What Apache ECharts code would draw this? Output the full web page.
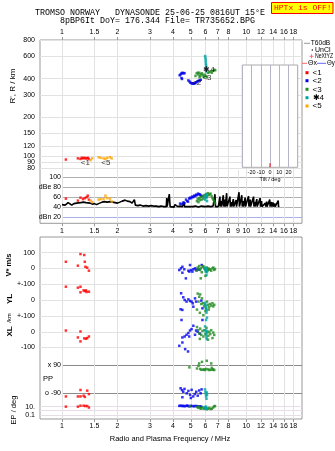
<!DOCTYPE html>
<html><head><meta charset="utf-8">
<script src="https://cdn.jsdelivr.net/npm/echarts@6/dist/echarts.min.js"></script>
<style>html,body{margin:0;padding:0;background:#fff}#c{width:335px;height:451px}</style>
</head><body><div id="c"></div>
<script>
// ---------- axis ticks ----------
const freqTicks = [1, 1.5, 2, 3, 4, 5, 6, 7, 8, 10, 12, 14, 16, 18];
const freqTicksDb = [1, 1.5, 2, 3, 4, 5, 6, 7, 8, 9, 10, 12, 14, 16, 18];
const rTicks = [800, 600, 400, 300, 200, 150, 120, 100, 90, 80];
const rLabelsA = [800, 600, 400, 300, 200, 150, 120, 100, 80];
const rLabelsB = [90];
const dbTicks = [20, 40, 60, 80, 100];
const vTicks = [100, 0, -100];
const ylTicks = [100, 0, -100];
const xlTicks = [100, 0, -100];
const ppTicks = [90, -90];
const epTicks = [10, 1, 0.1];
const epLabels = [10, 0.1];

// ---------- virtual height R' (km) ----------
const redR = [[1.05,94],[1.22,96],[1.26,95],[1.28,97],[1.30,96],[1.32,97],[1.34,96],[1.36,96],[1.38,97],[1.40,95]];
const orangeR = [[1.43,93],[1.46,96],[1.58,98],[1.62,97],[1.68,96],[1.72,95],[1.76,97],[1.82,98],[1.86,96]];
const blueR = [[4.35,425],[4.40,432],[4.45,440],[4.50,445],[4.56,440],[4.62,442],[4.45,405],[4.48,398],[4.85,388],[4.92,380],[4.98,372],[5.05,368],[5.12,366],[5.20,366],[5.28,370],[5.35,375],[5.42,380],[5.50,384],[5.58,388],[5.66,392]];
const greenR = [[5.30,420],[5.38,440],[5.45,445],[5.50,430],[5.55,445],[5.62,420],[5.68,435],[5.75,440],[5.80,425],[5.88,415],[5.95,430],[6.05,420],[6.20,445],[6.30,450],[6.40,455],[6.50,445],[6.60,460],[6.70,470],[6.78,465],[5.58,410],[6.12,410]];
const cyanR = [[5.98,600],[6.00,580],[6.02,560],[6.02,540],[6.04,520],[6.05,505],[6.06,490],[6.08,470],[6.05,455]];
const traceLabels = [['<1',1.34,89],['<5',1.73,89],['<2',5.38,375],['<3',6.12,404],['✱4',6.27,470]];

// ---------- amplitude dB ----------
const noiseDb = [[1.00,45],[1.02,47],[1.04,44],[1.06,46],[1.08,49],[1.10,45],[1.13,44],[1.16,47],[1.20,48],[1.23,50],[1.26,49],[1.28,51],[1.31,50],[1.35,49],[1.38,48],[1.42,48],[1.46,46],[1.50,47],[1.54,45],[1.58,47],[1.61,48],[1.65,50],[1.70,51],[1.76,50],[1.82,51],[1.88,50],[1.94,49],[2.00,48],[2.06,50],[2.12,52],[2.20,54],[2.26,52],[2.34,51],[2.40,48],[2.44,49],[2.47,55],[2.50,44],[2.58,43],[2.65,44],[2.75,42],[2.85,43],[2.95,42],[3.05,43],[3.13,42],[3.25,42],[3.35,41],[3.45,42],[3.54,41],[3.62,42],[3.68,41],[3.70,58],[3.72,41],[3.80,42],[3.82,66],[3.86,41],[3.95,42],[4.05,40],[4.10,45],[4.15,41],[4.25,41],[4.37,42],[4.50,41],[4.59,51],[4.62,41],[4.75,41],[4.95,41],[5.10,41],[5.30,42],[5.50,40],[5.70,42],[5.84,44],[6.00,41],[6.20,42],[6.40,41],[6.60,42],[6.76,66],[6.80,41],[6.95,42],[7.05,41],[7.19,61],[7.22,41],[7.30,52],[7.34,41],[7.45,42],[7.50,64],[7.54,41],[7.65,55],[7.69,41],[7.78,42],[7.82,68],[7.86,41],[8.00,42],[8.15,61],[8.19,41],[8.30,50],[8.34,41],[8.45,42],[8.50,56],[8.55,41],[8.70,42],[8.80,54],[8.85,41],[9.00,42],[9.13,70],[9.18,41],[9.30,42],[9.45,64],[9.50,41],[9.60,52],[9.65,41],[9.80,42],[9.85,59],[9.90,41],[10.1,42],[10.28,62],[10.33,41],[10.5,55],[10.55,41],[10.8,42],[10.95,61],[11.0,41],[11.1,50],[11.15,41],[11.3,42],[11.4,56],[11.45,41],[11.7,42],[11.88,58],[11.93,41],[12.1,52],[12.15,41],[12.4,42],[12.7,48],[12.75,41],[12.9,51],[12.95,41],[13.2,42],[13.4,55],[13.45,41],[13.7,50],[13.75,41],[14.0,49],[14.05,41],[14.3,47],[14.35,41],[14.6,42],[14.9,53],[14.95,41],[15.1,42]];
const redDb = [[1.05,57],[1.22,53],[1.26,59],[1.30,56],[1.33,58],[1.36,60],[1.38,63],[1.40,55]];
const orangeDb = [[1.43,53],[1.46,50],[1.58,55],[1.62,56],[1.68,56],[1.72,63],[1.76,58],[1.82,57],[1.86,51]];
const blueDb = [[4.37,47],[4.45,46],[4.54,49],[4.62,48],[4.71,55],[4.78,52],[4.83,51],[4.90,57],[4.95,59],[5.02,58],[5.08,61],[5.15,60],[5.21,63],[5.28,62],[5.34,65],[5.40,64],[5.47,67],[5.55,66],[5.61,65],[5.68,63],[5.75,62]];
const greenDb = [[5.40,52],[5.45,56],[5.50,50],[5.55,58],[5.60,54],[5.66,60],[5.72,55],[5.80,62],[5.85,57],[5.92,64],[5.97,60],[6.05,66],[6.12,62],[6.18,68],[6.25,64],[6.32,66],[6.40,67],[6.48,62],[6.55,58],[6.62,55],[6.70,52],[6.76,48]];
const cyanDb = [[5.97,55],[6.00,60],[6.03,64],[6.05,66],[6.08,58],[6.10,62],[6.12,52]];

// ---------- V* (m/s) ----------
const redV = [[1.05,42],[1.22,17],[1.26,91],[1.32,85],[1.33,42],[1.34,10],[1.37,4],[1.40,-15]];
const blueV = [[4.33,-11],[4.42,0],[4.50,10],[4.50,-28],[4.61,-6],[4.70,-64],[4.85,-15],[4.91,-21],[4.95,21],[5.01,-11],[5.10,-21],[5.16,-6],[5.27,0],[5.34,-11],[5.73,21],[5.45,-5],[5.55,-8]];
const greenV = [[5.38,-15],[5.45,5],[5.50,-5],[5.55,15],[5.61,-10],[5.66,0],[5.73,-25],[5.80,8],[5.85,14],[5.92,0],[5.97,-6],[6.05,-20],[6.10,5],[6.18,-12],[6.23,0],[6.30,-8],[6.36,-6],[6.45,-15],[6.55,0],[6.62,5],[6.70,-10],[6.76,-4],[5.66,-64],[6.00,-48]];
const cyanV = [[5.97,4],[6.00,-10],[6.03,-20],[6.05,0],[6.08,-43],[6.10,-8],[6.12,-25]];

// ---------- YL (km) ----------
const redYL = [[1.05,83],[1.22,77],[1.26,83],[1.26,48],[1.31,60],[1.33,56],[1.35,60],[1.36,50],[1.40,52]];
const blueYL = [[4.43,42],[4.55,17],[4.63,0],[4.74,-10],[4.85,4],[4.95,-6],[5.05,-10],[5.12,-21],[5.27,10],[5.34,-10],[4.40,-58],[4.50,-62],[4.45,-125],[5.70,-4],[5.78,-52],[5.78,-125],[5.16,-42]];
const greenYL = [[5.45,40],[5.50,-10],[5.55,20],[5.62,35],[5.70,-25],[5.75,10],[5.82,-20],[5.90,-40],[5.97,-30],[6.05,-50],[6.12,-10],[6.20,-30],[6.28,-45],[6.36,-25],[6.45,-35],[6.55,-20],[6.62,-40],[6.70,-30],[5.40,-60],[5.60,-80],[5.85,-95],[6.00,-70],[6.25,-60]];
const cyanYL = [[5.97,-17],[6.00,-30],[6.03,-55],[6.05,-40],[6.08,-80],[6.10,-65],[6.12,-110],[6.05,-125]];

// ---------- XL (km) ----------
const redXL = [[1.05,8],[1.22,-36],[1.26,2],[1.26,-61],[1.32,-42],[1.35,-44],[1.37,-40],[1.40,-30]];
const blueXL = [[5.16,38],[5.05,17],[4.95,8],[4.85,-8],[4.74,-19],[4.63,-30],[4.50,-36],[4.90,-30],[5.34,8],[5.27,-19],[4.50,-68],[4.33,-89],[4.66,-110],[4.83,-125],[5.45,0],[5.60,-12]];
const greenXL = [[5.40,30],[5.48,10],[5.55,-10],[5.62,20],[5.70,-20],[5.78,5],[5.85,-30],[5.92,10],[6.00,-15],[6.08,25],[6.15,-5],[6.22,-25],[6.30,0],[6.38,-15],[6.45,10],[6.55,-40],[6.62,-5],[6.70,-20],[5.60,-45],[6.20,-50]];
const cyanXL = [[5.97,34],[6.00,10],[6.03,-5],[6.05,-20],[6.08,-35],[6.10,-46],[6.12,5]];

// ---------- PP (deg) ----------
const redPP = [[1.05,-110],[1.22,-110],[1.26,-69],[1.26,-110],[1.31,-105],[1.33,-113],[1.37,-73],[1.40,-95]];
const bluePP = [[4.40,-58],[4.48,-70],[4.55,-80],[4.62,-62],[4.75,-90],[4.85,-75],[4.95,-100],[5.05,-68],[5.15,-110],[5.25,-95],[5.35,-80],[5.45,-105],[5.55,-72],[5.65,-90],[4.50,-115],[5.00,-120],[5.72,-65]];
const greenPP = [[4.91,75],[5.40,68],[5.50,85],[5.55,100],[5.62,65],[5.70,60],[5.75,110],[5.82,60],[5.90,62],[5.97,58],[6.05,65],[6.10,117],[6.20,62],[6.30,58],[6.40,60],[6.50,72],[6.55,60],[6.62,62],[6.70,58],[6.45,100]];
const cyanPP = [[5.97,-65],[6.00,-80],[6.03,-95],[6.05,-110],[6.08,-125],[6.10,-85],[6.12,-100]];

// ---------- EP (deg) ----------
const redEP = [[1.05,10],[1.22,10],[1.26,17],[1.31,17],[1.34,14],[1.37,14],[1.40,6]];
const blueEP = [[4.33,15],[4.40,18],[4.48,14],[4.55,16],[4.62,12],[4.70,15],[4.78,18],[4.85,14],[4.92,12],[5.00,16],[5.10,14],[5.20,12],[5.30,15],[5.40,13],[5.50,11],[5.60,12],[5.70,10]];
const greenEP = [[4.95,12],[5.40,8],[5.50,5],[5.55,10],[5.62,4],[5.70,3],[5.80,6],[5.90,3],[6.00,4],[6.10,2.5],[6.20,3],[6.30,5],[6.40,2.5],[6.50,3],[6.60,6],[6.70,12],[6.76,14]];
const cyanEP = [[5.97,8],[6.00,5],[6.03,3],[6.05,10],[6.08,4],[6.10,2.5]];

// ---------- tilt inset ----------
const tiltTicks = [-20, -10, 0, 10, 20];
const tiltX = [[0,0],[0,4]];

// ================= chart =================
const FMIN = 0.76, FMAX = 20.05;
const RMIN = 70.0, RMAX = 800;
const FONT = 'Liberation Sans';
const LBL = {fontSize: 7, fontFamily: FONT, color: '#000', hideOverlap: false, showMinLabel: true, showMaxLabel: true};
const C = {red:'#ff0000', orange:'#ffa500', blue:'#0000ee', green:'#228b22', cyan:'#00a3a3'};
const fmtF = v => String(Math.round(v * 10) / 10);

function gridBox(top, height, extra) {
  return Object.assign({left: 40, right: 33, top: top, height: height, show: false, containLabel: false}, extra || {});
}
const grids = [
  gridBox(40, 183.3, {show: true, borderColor: '#999', borderWidth: 1, backgroundColor: 'transparent'}), // 0 frame top
  gridBox(40, 136),            // 1 R
  gridBox(170, 53.3, {left: 62}), // 2 dB
  gridBox(237, 182, {show: true, borderColor: '#999', borderWidth: 1, backgroundColor: 'transparent'}), // 3 frame bottom
  gridBox(237, 47),            // 4 V*
  gridBox(284, 32),            // 5 YL
  gridBox(316, 41),            // 6 XL
  gridBox(357, 44, {left: 62}),// 7 PP
  gridBox(401, 18),            // 8 EP
  {left: 242.3, right: 335 - 297.7, top: 65, height: 102.3, show: true, backgroundColor: '#fff', borderColor: '#aaa', borderWidth: 1, z: 5} // 9 inset
];

function fAxis(gi, opts) {
  const base = {type: 'log', logBase: 10, gridIndex: gi, min: gi === 2 || gi === 7 ? 1 : FMIN, max: FMAX,
    axisLine: {show: false}, axisTick: {show: false}, axisLabel: {show: false}, splitLine: {show: false}};
  return Object.assign(base, opts || {});
}
const xAxes = [
  fAxis(0),
  fAxis(1, {position: 'top',
    axisTick: {show: true, length: 3, customValues: freqTicks, lineStyle: {color: '#999'}},
    axisLabel: Object.assign({show: true, margin: 4, customValues: freqTicks, formatter: fmtF}, LBL),
    splitLine: {show: true, lineStyle: {color: '#e2e2e2', width: 1}}}),
  fAxis(2, {position: 'bottom',
    axisTick: {show: true, length: 3, customValues: freqTicksDb, lineStyle: {color: '#999'}},
    axisLabel: Object.assign({show: true, margin: 4, customValues: freqTicksDb, formatter: fmtF}, LBL),
    splitLine: {show: true, lineStyle: {color: '#e2e2e2', width: 1}}}),
  fAxis(3, {position: 'bottom',
    axisTick: {show: true, length: 3, customValues: freqTicks, lineStyle: {color: '#999'}},
    axisLabel: Object.assign({show: true, margin: 4, customValues: freqTicks, formatter: fmtF}, LBL),
    splitLine: {show: true, lineStyle: {color: '#e2e2e2', width: 1}}}),
  fAxis(4), fAxis(5), fAxis(6), fAxis(7), fAxis(8),
  {type: 'value', gridIndex: 9, min: -30, max: 30, interval: 10, z: 6,
    axisLine: {show: false}, axisTick: {show: false},
    axisLabel: {show: true, margin: 2, fontSize: 5.5, fontFamily: FONT, color: '#000', hideOverlap: false,
      formatter: v => (Math.abs(v) === 30 ? '' : String(v))},
    splitLine: {show: true, lineStyle: {color: '#b4b4c8'}},
    name: 'Tilt / deg', nameLocation: 'middle', nameGap: 9,
    nameTextStyle: {fontSize: 5.5, fontFamily: FONT, color: '#000'}}
];

function hidY(gi) {
  return {type: 'value', gridIndex: gi, show: false, splitLine: {show: false}};
}
function yVal(gi, min, max, ticks, labels, fmt, lineColor, extra) {
  return Object.assign({type: 'value', gridIndex: gi, min: min, max: max,
    axisLine: {show: false},
    axisTick: {show: false, customValues: ticks},
    axisLabel: Object.assign({margin: 5, customValues: labels, formatter: fmt}, LBL),
    splitLine: {show: true, lineStyle: {color: lineColor, width: 1}}}, extra || {});
}
const dbFmt = v => (Math.round(v) === 80 ? 'dBe 80' : Math.round(v) === 20 ? 'dBn 20' : String(Math.round(v)));
const yAxes = [
  hidY(0),
  {type: 'log', logBase: 10, gridIndex: 1, min: RMIN, max: RMAX,
    axisLine: {show: false}, axisTick: {show: false, customValues: rTicks},
    axisLabel: Object.assign({margin: 5, customValues: rLabelsA, formatter: v => String(Math.round(v))}, LBL),
    splitLine: {show: true, lineStyle: {color: '#e2e2e2'}}},
  yVal(2, 7.4, 114.6, dbTicks, dbTicks, dbFmt,
    ['#a9b0e6', '#b0b0b0', '#b0b0b0', '#b0b0b0', '#b0b0b0'],
    {axisLabel: Object.assign({margin: 1, customValues: dbTicks, formatter: dbFmt}, LBL)}),
  hidY(3),
  yVal(4, -100, 200, vTicks, [100, 0], v => String(Math.round(v)), '#e2e2e2'),
  yVal(5, -100, 100, ylTicks, [100, 0], v => (Math.round(v) === 100 ? '+-100' : String(Math.round(v))), '#e2e2e2'),
  yVal(6, -160, 100, xlTicks, [100, 0, -100], v => (Math.round(v) === 100 ? '+-100' : String(Math.round(v))), '#e2e2e2'),
  yVal(7, -139, 141, ppTicks, ppTicks, v => (v > 0 ? 'x 90' : 'o -90'), '#8a8a8a',
    {axisLabel: Object.assign({margin: 1, customValues: ppTicks, formatter: v => (v > 0 ? 'x 90' : 'o -90')}, LBL)}),
  {type: 'log', logBase: 10, gridIndex: 8, min: 0.009, max: 245,
    axisLine: {show: false}, axisTick: {show: false, customValues: epTicks},
    axisLabel: Object.assign({margin: 5, customValues: epLabels, formatter: v => (v > 1 ? '10.' : '0.1')}, LBL),
    splitLine: {show: true, lineStyle: {color: '#e6dde6'}}},
  {type: 'value', gridIndex: 9, min: 0, max: 100, show: false, splitLine: {show: false}},
  // 10: second label axis on the R panel (carries the crowded "90" label)
  {type: 'log', logBase: 10, gridIndex: 1, min: RMIN, max: RMAX, position: 'left', offset: 0,
    axisLine: {show: false}, axisTick: {show: false, customValues: rLabelsB},
    axisLabel: Object.assign({margin: 5, customValues: rLabelsB, formatter: v => String(Math.round(v))}, LBL),
    splitLine: {show: false}}
];

function sc(data, color, gi) {
  return {type: 'scatter', xAxisIndex: gi, yAxisIndex: gi, data: data, symbol: 'rect', symbolSize: 2.5,
    itemStyle: {color: color}, clip: false, silent: true, z: 3};
}
const series = [
  sc(redR, C.red, 1), sc(orangeR, C.orange, 1), sc(blueR, C.blue, 1), sc(greenR, C.green, 1), sc(cyanR, C.cyan, 1),
  {type: 'scatter', xAxisIndex: 1, yAxisIndex: 1, symbolSize: 0, silent: true, z: 4,
    data: traceLabels.map(t => ({name: t[0], value: [t[1], t[2]]})),
    label: {show: true, position: 'inside', formatter: p => p.name, fontSize: 8, fontFamily: FONT, color: '#000'}},
  {type: 'line', xAxisIndex: 2, yAxisIndex: 2, data: noiseDb, symbol: 'none', silent: true, z: 2,
    lineStyle: {color: '#000', width: 1.6}},
  sc(redDb, C.red, 2), sc(orangeDb, C.orange, 2), sc(blueDb, C.blue, 2), sc(greenDb, C.green, 2), sc(cyanDb, C.cyan, 2),
  sc(redV, C.red, 4), sc(blueV, C.blue, 4), sc(greenV, C.green, 4), sc(cyanV, C.cyan, 4),
  sc(redYL, C.red, 5), sc(blueYL, C.blue, 5), sc(greenYL, C.green, 5), sc(cyanYL, C.cyan, 5),
  sc(redXL, C.red, 6), sc(blueXL, C.blue, 6), sc(greenXL, C.green, 6), sc(cyanXL, C.cyan, 6),
  sc(redPP, C.red, 7), sc(bluePP, C.blue, 7), sc(greenPP, C.green, 7), sc(cyanPP, C.cyan, 7),
  sc(redEP, C.red, 8), sc(blueEP, C.blue, 8), sc(greenEP, C.green, 8), sc(cyanEP, C.cyan, 8),
  {type: 'line', xAxisIndex: 9, yAxisIndex: 9, data: tiltX, symbol: 'none', silent: true, z: 7,
    lineStyle: {color: C.red, width: 1}}
];

function txt(x, y, text, o) {
  o = o || {};
  return {type: 'text', x: x, y: y, rotation: o.rot || 0, scaleX: o.sx || 1, silent: true, z: 20,
    style: {text: text, fill: o.fill || '#000', font: o.font || ('7.5px ' + FONT),
      align: o.align || 'left', textAlign: o.align || 'left',
      verticalAlign: 'middle', textVerticalAlign: 'middle'}};
}
function ln(x1, y1, x2, y2, color) {
  return {type: 'line', silent: true, z: 20, shape: {x1: x1, y1: y1, x2: x2, y2: y2}, style: {stroke: color, lineWidth: 1}};
}
function sq(x, y, color) {
  return {type: 'rect', silent: true, z: 20, shape: {x: x, y: y - 1.5, width: 3, height: 3}, style: {fill: color}};
}
const MONO = 'Liberation Mono';
const LF = '7px ' + FONT;
const graphics = [
  txt(35, 12.3, 'TROMSO NORWAY   DYNASONDE 25-06-25 0816UT 15°E', {font: '8.33px ' + MONO}),
  txt(60, 20.7, '8pBP6It DoY= 176.344 File= TR735652.BPG', {font: '8.33px ' + MONO}),
  {type: 'rect', silent: true, z: 20, shape: {x: 271.5, y: 2.5, width: 61.5, height: 11}, style: {fill: '#ffff00', stroke: '#ff0000', lineWidth: 1}},
  txt(274, 8.3, 'HPTx is OFF!', {font: '8px ' + MONO, fill: '#ff0000'}),
  // legend
  ln(304, 43.3, 310, 43.3, '#999'), txt(310.7, 43.3, 'T60dB', {font: LF, sx: 0.95}),
  {type: 'circle', silent: true, z: 20, shape: {cx: 312.3, cy: 50, r: 0.7}, style: {fill: '#000'}}, txt(315, 50, 'UnCl', {font: LF}),
  ln(309.5, 56.3, 313.5, 56.3, '#ff6688'), ln(311.5, 54.3, 311.5, 58.3, '#ff6688'), txt(315, 56.3, 'NeXtYZ', {font: LF, sx: 0.74}),
  ln(302, 63.3, 307, 63.3, '#ff6666'), txt(308, 63.3, 'Θx', {font: LF}), ln(317, 63.3, 326, 63.3, '#6666ff'), txt(327, 63.3, 'Θy', {font: LF, sx: 0.88}),
  sq(305.5, 72.7, C.red), txt(312.5, 72.7, '<1', {font: '8px ' + FONT}),
  sq(305.5, 80.7, C.blue), txt(312.5, 80.7, '<2', {font: '8px ' + FONT}),
  sq(305.5, 89.3, C.green), txt(312.5, 89.3, '<3', {font: '8px ' + FONT}),
  sq(305.5, 97.7, C.cyan), txt(312.5, 97.7, '✱4', {font: '8px ' + FONT}),
  sq(305.5, 106, C.orange), txt(312.5, 106, '<5', {font: '8px ' + FONT}),
  // axis titles
  txt(13, 86, "R', R / km", {rot: Math.PI / 2, align: 'center', font: '8px ' + FONT}),
  txt(9, 265, 'V* m/s', {rot: Math.PI / 2, align: 'center', font: 'bold 7.5px ' + FONT}),
  txt(9.5, 299, 'YL', {rot: Math.PI / 2, align: 'center', font: 'bold 8px ' + FONT}),
  txt(9.5, 318, '/km', {rot: Math.PI / 2, align: 'center', font: '6px ' + FONT}),
  txt(9.5, 331.5, 'XL', {rot: Math.PI / 2, align: 'center', font: 'bold 8px ' + FONT}),
  txt(43, 379.3, 'PP', {font: '7.5px ' + FONT}),
  txt(14, 410, 'EP / deg', {rot: Math.PI / 2, align: 'center', font: '7.5px ' + FONT}),
  txt(170, 439, 'Radio and Plasma Frequency / MHz', {align: 'center', font: '7.5px ' + FONT})
];

const chart = echarts.init(document.getElementById('c'), null, {renderer: 'canvas', width: 335, height: 451});
chart.setOption({
  animation: false,
  backgroundColor: '#fff',
  grid: grids,
  xAxis: xAxes,
  yAxis: yAxes,
  series: series,
  graphic: {elements: graphics}
});
</script>
</body></html>
